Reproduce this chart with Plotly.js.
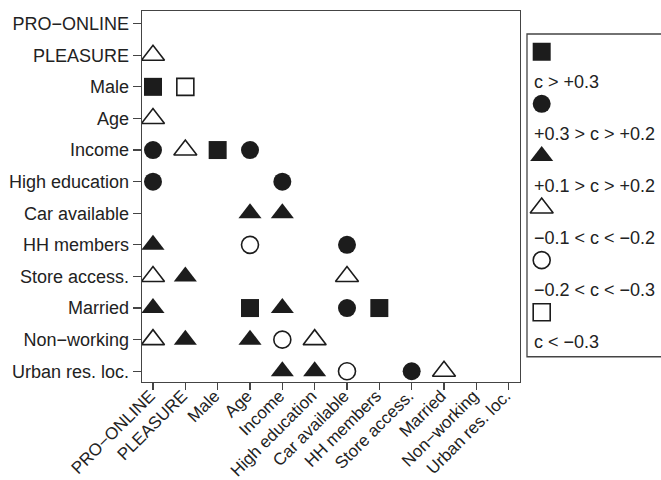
<!DOCTYPE html>
<html><head><meta charset="utf-8">
<script src="https://cdn.plot.ly/plotly-3.0.1.min.js"></script>
<style>html,body{margin:0;padding:0;background:#fff}#chart{width:661px;height:480px}</style>
</head><body><div id="chart"></div>
<script>
// Variables (axis categories, same order on both axes)
const variables = ['PRO−ONLINE','PLEASURE','Male','Age','Income','High education','Car available','HH members','Store access.','Married','Non−working','Urban res. loc.'];

// Correlation classes (legend labels)
const classLabels = ['c > +0.3', '+0.3 > c > +0.2', '+0.1 > c > +0.2', '−0.1 < c < −0.2', '−0.2 < c < −0.3', 'c < −0.3'];
const classSymbols = ['square', 'circle', 'triangle-up', 'triangle-up-open', 'circle-open', 'square-open'];

// Class 0: c > +0.3 (filled square)
const strongPosRow = ['Male', 'Income', 'Married', 'Married'];
const strongPosCol = ['PRO−ONLINE', 'Male', 'Age', 'HH members'];
// Class 1: +0.3 > c > +0.2 (filled circle)
const medPosRow = ['Income', 'Income', 'High education', 'High education', 'HH members', 'Married', 'Urban res. loc.'];
const medPosCol = ['PRO−ONLINE', 'Age', 'PRO−ONLINE', 'Income', 'Car available', 'Car available', 'Store access.'];
// Class 2: +0.1 > c > +0.2 (filled triangle)
const weakPosRow = ['Car available', 'Car available', 'HH members', 'Store access.', 'Married', 'Married', 'Non−working', 'Non−working', 'Urban res. loc.', 'Urban res. loc.'];
const weakPosCol = ['Age', 'Income', 'PRO−ONLINE', 'PLEASURE', 'PRO−ONLINE', 'Income', 'PLEASURE', 'Age', 'Income', 'High education'];
// Class 3: -0.1 < c < -0.2 (open triangle)
const weakNegRow = ['PLEASURE', 'Age', 'Income', 'Store access.', 'Store access.', 'Non−working', 'Non−working', 'Urban res. loc.'];
const weakNegCol = ['PRO−ONLINE', 'PRO−ONLINE', 'PLEASURE', 'PRO−ONLINE', 'Car available', 'PRO−ONLINE', 'High education', 'Married'];
// Class 4: -0.2 < c < -0.3 (open circle)
const medNegRow = ['HH members', 'Non−working', 'Urban res. loc.'];
const medNegCol = ['Age', 'Income', 'Car available'];
// Class 5: c < -0.3 (open square)
const strongNegRow = ['Male'];
const strongNegCol = ['PLEASURE'];

const rows = [strongPosRow, medPosRow, weakPosRow, weakNegRow, medNegRow, strongNegRow];
const cols = [strongPosCol, medPosCol, weakPosCol, weakNegCol, medNegCol, strongNegCol];

const ink = '#1c1c1c';
const font = {family: '"Liberation Sans", Arial, Helvetica, sans-serif', size: 18, color: '#222'};
const xFont = {family: font.family, size: 17, color: font.color};

function markerFor(i) {
  const open = classSymbols[i].endsWith('open');
  const tri = classSymbols[i].startsWith('triangle');
  return {
    symbol: classSymbols[i],
    size: tri ? 20 : (open ? 17 : 18),
    color: ink,
    line: {color: ink, width: open ? 1.6 : 0}
  };
}

const traces = [];
for (let i = 0; i < classLabels.length; i++) {
  traces.push({
    type: 'scatter', mode: 'markers',
    x: cols[i], y: rows[i],
    marker: markerFor(i),
    showlegend: false, hoverinfo: 'skip',
    xaxis: 'x', yaxis: 'y'
  });
}

// Custom legend: symbol above label, inside a box on the right
const legStep = 52.1, legSym0 = 17.7, legTxtOff = 30;
for (let i = 0; i < classLabels.length; i++) {
  traces.push({
    type: 'scatter', mode: 'markers',
    x: [14.7], y: [legSym0 + i * legStep],
    marker: markerFor(i),
    showlegend: false, hoverinfo: 'skip',
    xaxis: 'x2', yaxis: 'y2'
  });
}
const annotations = classLabels.map((t, i) => ({
  text: t, x: 5.2, y: legSym0 + i * legStep + legTxtOff,
  xref: 'x2', yref: 'y2', xanchor: 'left', yanchor: 'middle',
  showarrow: false, font: font
}));

const axLine = '#444';
const layout = {
  width: 661, height: 480,
  margin: {l: 142, r: 0, t: 11, b: 98, pad: 0},
  paper_bgcolor: '#fff', plot_bgcolor: '#fff',
  font: font,
  showlegend: false,
  xaxis: {
    domain: [0, 0.7283],
    type: 'category', categoryorder: 'array', categoryarray: variables,
    tickvals: variables, ticktext: variables,
    range: [-0.34, 11.35],
    tickangle: -45, ticks: 'outside', ticklen: 7, tickcolor: axLine, tickwidth: 1.2,
    ticklabelstandoff: -11, ticklabelshift: -3,
    showline: true, linecolor: axLine, linewidth: 1.3, mirror: true,
    showgrid: false, zeroline: false, fixedrange: true,
    tickfont: xFont
  },
  yaxis: {
    type: 'category', categoryorder: 'array', categoryarray: variables,
    tickvals: variables, ticktext: variables,
    range: [11.34, -0.4],
    ticks: 'outside', ticklen: 8, tickcolor: axLine, tickwidth: 1.2,
    showline: true, linecolor: axLine, linewidth: 1.3, mirror: true,
    showgrid: false, zeroline: false, fixedrange: true,
    tickfont: font
  },
  xaxis2: {
    domain: [0.7418, 1], range: [0, 134], anchor: 'y2',
    visible: false, fixedrange: true
  },
  yaxis2: {
    domain: [0.068, 0.938], range: [322.7, 0], anchor: 'x2',
    visible: false, fixedrange: true
  },
  shapes: [{
    type: 'rect', xref: 'paper', yref: 'paper',
    x0: 0.7418, x1: 1.05, y0: 0.068, y1: 0.938,
    line: {color: axLine, width: 1.3}, fillcolor: 'rgba(0,0,0,0)'
  }],
  annotations: annotations
};

Plotly.newPlot('chart', traces, layout, {displayModeBar: false, staticPlot: true});
</script>
</body></html>
